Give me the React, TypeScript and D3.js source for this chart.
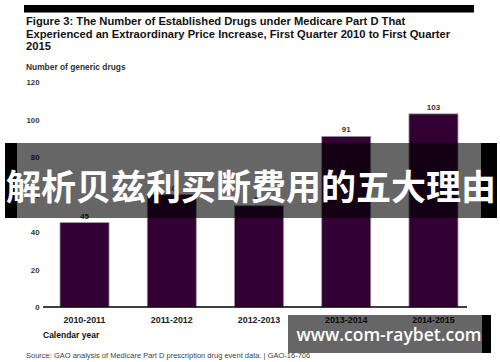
import React from "react";
import * as d3 from "d3";

const categories = ["2010-2011", "2011-2012", "2012-2013", "2013-2014", "2014-2015"];
const values = [45, 60, 54, 91, 103];
const yTicks = [0, 20, 40, 60, 80, 100, 120];
const titleLines = [
  "Figure 3: The Number of Established Drugs under Medicare Part D That",
  "Experienced an Extraordinary Price Increase, First Quarter 2010 to First Quarter",
  "2015",
];
const yAxisTitle = "Number of generic drugs";
const xAxisTitle = "Calendar year";
const sourceText = "Source: GAO analysis of Medicare Part D prescription drug event data.  |  GAO-16-706";
const bannerText = "解析贝兹利买断费用的五大理由";
const watermarkText = "www.com-raybet.com";

export default function App() {
  const W = 500, H = 362;
  const x = d3.scaleBand<string>().domain(categories).range([43, 475]).paddingInner(0.438).paddingOuter(0.195);
  const y = d3.scaleLinear().domain([0, 120]).range([307, 82]);
  const font = "'Liberation Sans', Arial, sans-serif";
  return (
    <svg width={W} height={H} style={{ position: "absolute", left: 0, top: 0 }}>
      <rect x={0} y={0} width={W} height={H} fill="#fff" />
      <rect x={24} y={5} width={450} height={7.5} fill="#000" />
      {titleLines.map((t, i) => (
        <text key={i} x={26} y={25 + i * 12.6} fontFamily={font} fontWeight="bold" fontSize={11.2} fill="#111">{t}</text>
      ))}
      <text x={26} y={70} fontFamily={font} fontWeight="bold" fontSize={8.4} fill="#333">{yAxisTitle}</text>
      {yTicks.map((t) => (
        <text key={t} x={39.5} y={y(t) + 3} textAnchor="end" fontFamily={font} fontWeight="bold" fontSize={7.8} fill="#333">{t}</text>
      ))}
      {categories.map((c, i) => (
        <g key={c}>
          <rect x={x(c)} y={y(values[i])} width={x.bandwidth()} height={y(0) - y(values[i])} fill="#330033" stroke="#9a9a9a" strokeWidth={0.8} />
          <text x={(x(c) as number) + x.bandwidth() / 2} y={y(values[i]) - 4} textAnchor="middle" fontFamily={font} fontWeight="bold" fontSize={8} fill="#333">{values[i]}</text>
          <text x={(x(c) as number) + x.bandwidth() / 2} y={322.5} textAnchor="middle" fontFamily={font} fontWeight="bold" fontSize={8.9} fill="#222">{c}</text>
        </g>
      ))}
      <line x1={43} x2={467} y1={y(0)} y2={y(0)} stroke="#000" strokeWidth={1.5} />
      <text x={43} y={338} fontFamily={font} fontWeight="bold" fontSize={8.5} fill="#111">{xAxisTitle}</text>
      <text x={26} y={357.5} fontFamily={font} fontSize={7.5} fill="#444">{sourceText}</text>
      {/* banner */}
      <rect x={5} y={143} width={12} height={75} fill="#000" />
      <rect x={481} y={143} width={16} height={75} fill="#000" />
      <rect x={17} y={143} width={464} height={75} fill="rgba(0,0,0,0.6)" />
      <text x={251} y={199.5} textAnchor="middle" fontFamily="'Noto Sans CJK SC', sans-serif" fontWeight="bold" fontSize={35} fill="#fff">{bannerText}</text>
      {/* watermark */}
      <rect x={288} y={315} width={194} height={38} fill="rgba(0,0,0,0.6)" />
      <rect x={482} y={315} width={9} height={38} fill="#000" />
      <text x={389} y={341} textAnchor="middle" fontFamily="'Open Sans', 'Noto Sans', sans-serif" fontWeight="600" fontSize={17.5} fill="#fff">{watermarkText}</text>
    </svg>
  );
}
